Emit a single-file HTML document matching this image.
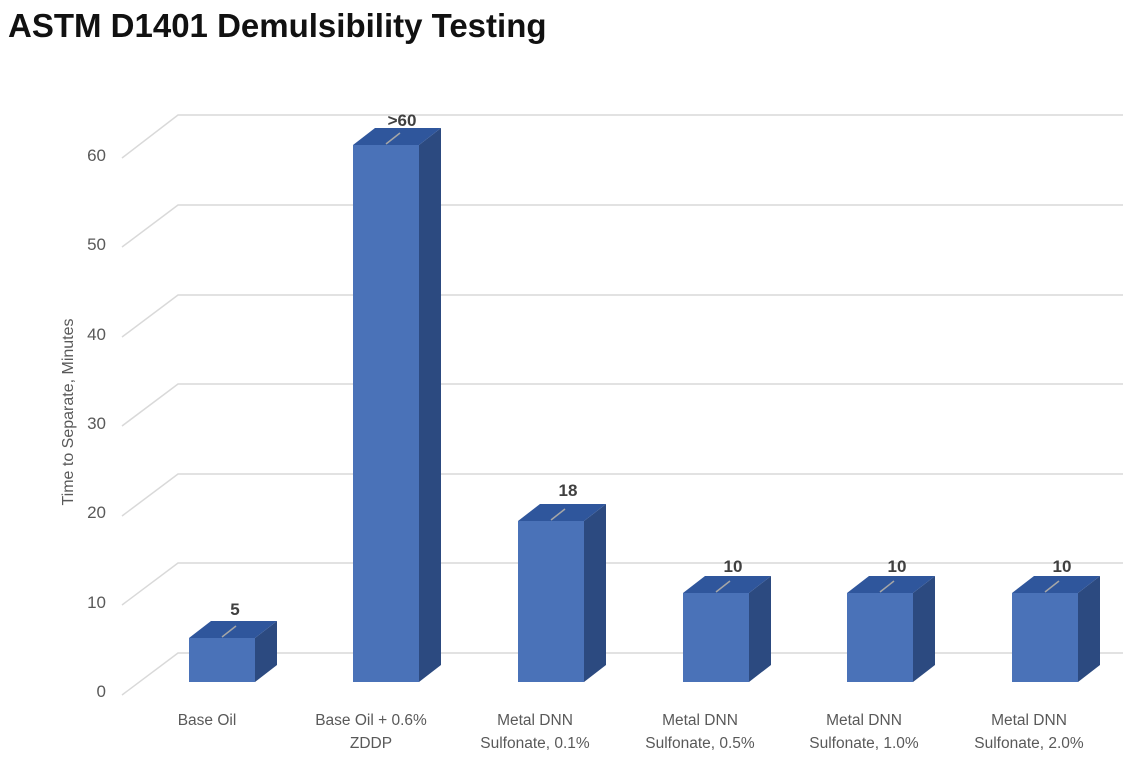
<!DOCTYPE html>
<html><head><meta charset="utf-8"><style>
body{margin:0;background:#fff;width:1143px;height:760px;overflow:hidden}
svg{display:block}
</style></head><body>
<svg width="1143" height="760" xmlns="http://www.w3.org/2000/svg" font-family="Liberation Sans, sans-serif">
<text x="8" y="37" font-family="Liberation Sans Narrow, Liberation Sans, sans-serif" font-weight="bold" font-size="33" fill="#111">ASTM D1401 Demulsibility Testing</text>
<g stroke="#d9d9d9" stroke-width="1.5" fill="none">
<path d="M122 695L178 653H1123M122 605L178 563H1123M122 516L178 474H1123M122 426L178 384H1123M122 337L178 295H1123M122 247L178 205H1123M122 158L178 115H1123"/>
</g>
<g fill="#595959" font-size="17" text-anchor="end">
<text x="106" y="697">0</text><text x="106" y="608">10</text><text x="106" y="518">20</text><text x="106" y="429">30</text><text x="106" y="340">40</text><text x="106" y="250">50</text><text x="106" y="161">60</text>
</g>
<text transform="translate(73,412) rotate(-90)" text-anchor="middle" font-size="16" fill="#595959">Time to Separate, Minutes</text>
<g>
<polygon fill="#2c4a80" points="255,638 277,621 277,665 255,682"/><polygon fill="#2f569c" points="189,638 211,621 277,621 255,638"/><rect fill="#4a72b8" x="189" y="638" width="66" height="44"/>
<polygon fill="#2c4a80" points="419,145 441,128 441,665 419,682"/><polygon fill="#2f569c" points="353,145 375,128 441,128 419,145"/><rect fill="#4a72b8" x="353" y="145" width="66" height="537"/>
<polygon fill="#2c4a80" points="584,521 606,504 606,665 584,682"/><polygon fill="#2f569c" points="518,521 540,504 606,504 584,521"/><rect fill="#4a72b8" x="518" y="521" width="66" height="161"/>
<polygon fill="#2c4a80" points="749,593 771,576 771,665 749,682"/><polygon fill="#2f569c" points="683,593 705,576 771,576 749,593"/><rect fill="#4a72b8" x="683" y="593" width="66" height="89"/>
<polygon fill="#2c4a80" points="913,593 935,576 935,665 913,682"/><polygon fill="#2f569c" points="847,593 869,576 935,576 913,593"/><rect fill="#4a72b8" x="847" y="593" width="66" height="89"/>
<polygon fill="#2c4a80" points="1078,593 1100,576 1100,665 1078,682"/><polygon fill="#2f569c" points="1012,593 1034,576 1100,576 1078,593"/><rect fill="#4a72b8" x="1012" y="593" width="66" height="89"/>
</g>
<g stroke="#a6a6a6" stroke-width="1.5">
<line x1="222" y1="637" x2="236" y2="626"/><line x1="386" y1="144" x2="400" y2="133"/><line x1="551" y1="520" x2="565" y2="509"/><line x1="716" y1="592" x2="730" y2="581"/><line x1="880" y1="592" x2="894" y2="581"/><line x1="1045" y1="592" x2="1059" y2="581"/>
</g>
<g font-weight="bold" font-size="17" fill="#404040" text-anchor="middle">
<text x="235" y="615">5</text><text x="402" y="126">&gt;60</text><text x="568" y="496">18</text><text x="733" y="572">10</text><text x="897" y="572">10</text><text x="1062" y="572">10</text>
</g>
<g fill="#595959" font-size="15.5" text-anchor="middle">
<text x="207" y="725">Base Oil</text>
<text x="371" y="725">Base Oil + 0.6%</text><text x="371" y="748">ZDDP</text>
<text x="535" y="725">Metal DNN</text><text x="535" y="748">Sulfonate, 0.1%</text>
<text x="700" y="725">Metal DNN</text><text x="700" y="748">Sulfonate, 0.5%</text>
<text x="864" y="725">Metal DNN</text><text x="864" y="748">Sulfonate, 1.0%</text>
<text x="1029" y="725">Metal DNN</text><text x="1029" y="748">Sulfonate, 2.0%</text>
</g>
</svg>
</body></html>
